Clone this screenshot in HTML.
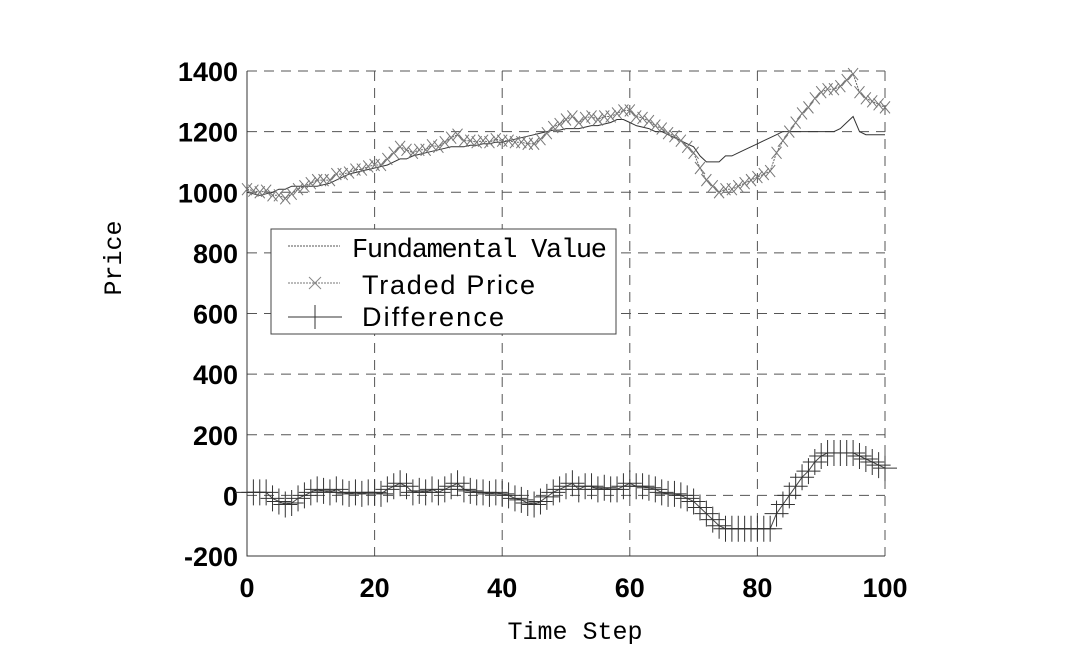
<!DOCTYPE html>
<html><head><meta charset="utf-8"><style>
body{margin:0;background:#fff;}
svg{display:block;font-family:"Liberation Sans","Noto Sans CJK JP",sans-serif;}
</style></head><body>
<svg id="chart" width="1079" height="667" viewBox="0 0 1079 667">
<g id="grid"></g>
<g id="axes"></g>
<g id="series"></g>
<text x="575" y="639" text-anchor="middle" font-size="25" font-family="Liberation Mono, monospace">Time Step</text>
<text transform="translate(121,258) rotate(-90)" text-anchor="middle" font-size="25" font-family="Liberation Mono, monospace">Price</text>
<g>
<rect x="271" y="229" width="345" height="105" fill="#fff" stroke="#444" stroke-width="1"/>
<line x1="288" y1="246" x2="340" y2="246" stroke="#555" stroke-dasharray="2,1"/>
<text x="352" y="257" font-size="27" font-family="Liberation Mono, monospace" textLength="255">Fundamental Value</text>
<line x1="288" y1="283" x2="340" y2="283" stroke="#777" stroke-dasharray="2,1"/>
<path d="M309 277 L321 289 M321 277 L309 289" stroke="#888"/>
<text x="362" y="294" font-size="27" textLength="173">Traded Price</text>
<line x1="288" y1="317" x2="342" y2="317" stroke="#333"/>
<line x1="315" y1="305" x2="315" y2="329" stroke="#333"/>
<text x="362" y="326" font-size="27" textLength="142">Difference</text>
</g>
</svg>
<script>
const xTicks=[0,20,40,60,80,100];
const yTicks=[-200,0,200,400,600,800,1000,1200,1400];
const fundamental=[1000,995,990,995,1000,1010,1010,1020,1020,1020,
1020,1020,1025,1030,1040,1050,1060,1065,1070,1075,
1080,1085,1090,1100,1110,1110,1120,1125,1130,1135,
1140,1145,1150,1150,1150,1155,1155,1160,1160,1165,
1165,1170,1175,1180,1185,1190,1195,1200,1205,1205,
1210,1210,1210,1215,1220,1220,1225,1230,1240,1240,
1230,1220,1215,1210,1200,1200,1190,1180,1170,1160,
1150,1120,1100,1100,1100,1120,1120,1130,1140,1150,
1160,1170,1180,1190,1200,1200,1200,1200,1200,1200,
1200,1200,1200,1210,1230,1250,1200,1190,1190,1190,1190];
const difference=[10,10,10,10,-10,-20,-30,-25,-10,0,
10,20,15,10,20,10,5,10,5,10,
10,5,20,30,40,30,10,15,10,20,
10,20,30,40,20,15,10,10,5,10,
5,0,-10,-15,-25,-30,-20,-5,10,20,
30,40,20,30,30,20,25,20,20,30,
40,30,30,25,20,10,5,5,0,-10,
-20,-40,-60,-80,-100,-110,-110,-110,-110,-110,
-110,-110,-110,-60,-30,0,30,60,80,110,
130,140,140,140,140,140,130,120,110,100,90];
const traded=fundamental.map((f,i)=>f+difference[i]);
const NS="http://www.w3.org/2000/svg";
const X0=247,X1=885,Y0=556,Y1=71;
const sx=v=>X0+(v-0)/(100-0)*(X1-X0);
const sy=v=>Y0-(v+200)/(1600)*(Y0-Y1);
function mk(tag,attrs,parent){const e=document.createElementNS(NS,tag);for(const k in attrs)e.setAttribute(k,attrs[k]);parent.appendChild(e);return e;}
const grid=document.getElementById('grid'),axes=document.getElementById('axes'),ser=document.getElementById('series');
xTicks.forEach(t=>{
 if(t>0){const l=mk('line',{x1:sx(t),x2:sx(t),y1:Y1,y2:Y0,stroke:'#555','stroke-dasharray':'10,7'},grid);
 
 }
 const tx=mk('text',{x:sx(t),y:597,'text-anchor':'middle','font-size':'27','font-weight':'bold'},axes);
 
 
 tx.textContent=t;
});
yTicks.forEach(t=>{
 if(t>-200){const l=mk('line',{x1:X0,x2:X1,y1:sy(t),y2:sy(t),stroke:'#555','stroke-dasharray':'10,7'},grid);
 
 }
 const tx=mk('text',{x:238,y:sy(t)+10,'text-anchor':'end','font-size':'27','font-weight':'bold'},axes);
 
 
 tx.textContent=t;
});
const ax=mk('path',{d:`M${X0} ${Y1} L${X0} ${Y0} L${X1} ${Y0}`,stroke:'#333',fill:'none'},axes);


function line(arr,stroke,dash,name){
 const d=arr.map((v,i)=>(i?'L':'M')+sx(i).toFixed(1)+' '+sy(v).toFixed(1)).join(' ');
 const p=mk('path',{d,stroke,fill:'none','stroke-width':1,'stroke-dasharray':dash},ser);
 
 
}
line(fundamental,'#333','none','fundamental-value-line');
line(traded,'#666','2,1','traded-price-line');
const tm=mk('g',{stroke:'#777','stroke-width':1},ser);


traded.forEach((v,i)=>{const x=sx(i),y=sy(v);
 const p=mk('path',{d:`M${x-5} ${y-6} L${x+5} ${y+6} M${x+5} ${y-6} L${x-5} ${y+6}`},tm);
 
 });
line(difference,'#444','none','difference-line');
const dm=mk('g',{stroke:'#333','stroke-width':1},ser);


difference.forEach((v,i)=>{const x=sx(i),y=sy(v);
 const p=mk('path',{d:`M${x-12} ${y} L${x+12} ${y} M${x} ${y-13} L${x} ${y+13}`},dm);
 
 });
</script>
</body></html>
